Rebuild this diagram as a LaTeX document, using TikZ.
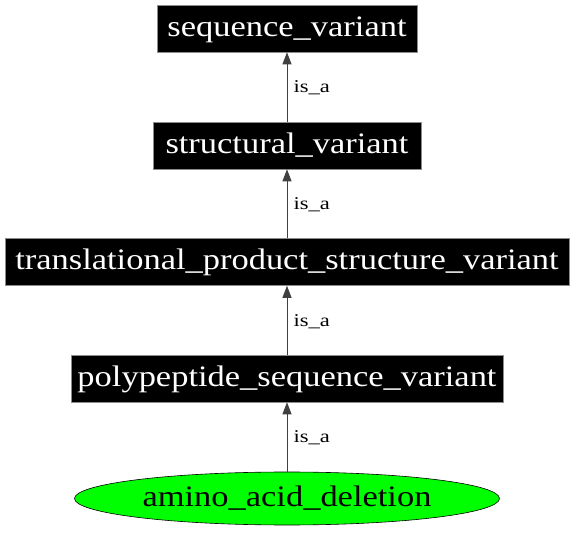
\documentclass[tikz,border=0pt]{standalone}
\usepackage{fontspec}
\usepackage{tikz}
\usetikzlibrary{positioning,shapes.geometric,arrows.meta}

\newfontfamily\termfont[FakeStretch=1.16]{Liberation Serif}
\newfontfamily\isafont[FakeStretch=1.25]{Liberation Serif}

\tikzset{
  termbox/.style={fill=black, text=white, draw=black!45, line width=0.6pt, inner sep=0pt, minimum height=47pt, text height=21pt, text depth=5.5pt, font=\termfont\fontsize{29.7}{34}\selectfont},
  termleaf/.style={ellipse, fill=green, draw=black, line width=0.6pt, inner sep=0pt, text=black, text height=21pt, text depth=5.5pt, font=\termfont\fontsize{29.7}{34}\selectfont},
  isa/.style={-{Triangle[length=12pt,width=9pt]}, line width=1pt, draw=black!75, fill=black},
  isalabel/.style={anchor=west, font=\isafont\fontsize{18}{21}\selectfont, inner sep=0pt, xshift=6pt, yshift=-1pt}
}

\begin{document}
\begin{tikzpicture}[x=1pt,y=-1pt]
\useasboundingbox (0,0) rectangle (576,534);

		\node[termbox, minimum width=260pt] (sv) at (287,28.5) {sequence\_variant};
		\node[termbox, minimum width=268pt] (stv) at (287,145.5) {structural\_variant};
		\node[termbox, minimum width=564pt] (tpsv) at (287,262) {translational\_product\_structure\_variant};
		\node[termbox, minimum width=432pt] (psv) at (287,378.5) {polypeptide\_sequence\_variant};
		\node[termleaf, minimum width=425pt, minimum height=53pt] (aad) at (287,498.5) {amino\_acid\_deletion};

\draw[isa] (stv) -- node[isalabel] {is\_a} (sv);
\draw[isa] (tpsv) -- node[isalabel] {is\_a} (stv);
\draw[isa] (psv) -- node[isalabel] {is\_a} (tpsv);
\draw[isa] (aad) -- node[isalabel] {is\_a} (psv);
\end{tikzpicture}
\end{document}
